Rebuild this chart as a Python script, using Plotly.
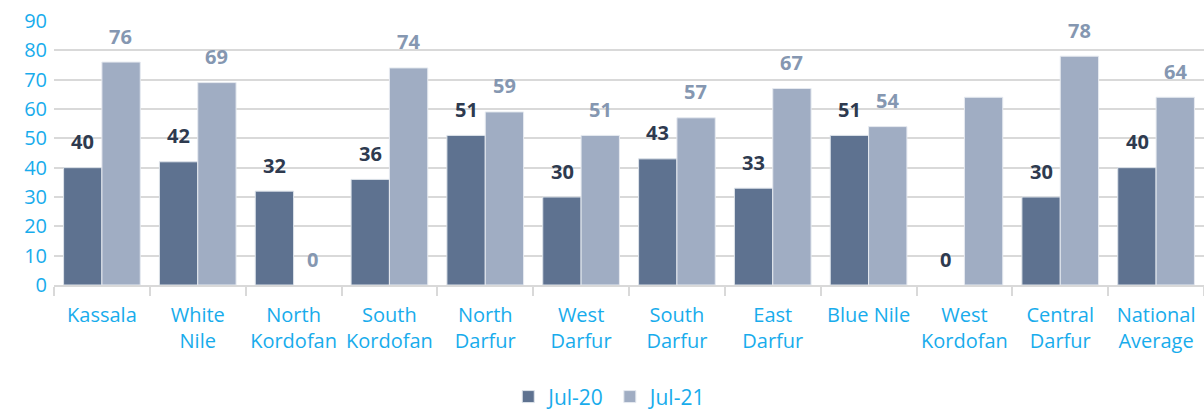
import plotly.graph_objects as go

categories = ["Kassala", "White<br>Nile", "North<br>Kordofan", "South<br>Kordofan", "North<br>Darfur",
              "West<br>Darfur", "South<br>Darfur", "East<br>Darfur", "Blue Nile", "West<br>Kordofan",
              "Central<br>Darfur", "National<br>Average"]
jul20 = [40, 42, 32, 36, 51, 30, 43, 33, 51, 0, 30, 40]
jul21 = [76, 69, 0, 74, 59, 51, 57, 67, 54, 64, 78, 64]
# labels shown above the bars (West Kordofan Jul-21 has no label in the source)
jul20_labels = ["40", "42", "32", "36", "51", "30", "43", "33", "51", "0", "30", "40"]
jul21_labels = ["76", "69", "0", "74", "59", "51", "57", "67", "54", None, "78", "64"]
y_ticks = [0, 10, 20, 30, 40, 50, 60, 70, 80, 90]

DARK = "#5e7290"
LIGHT = "#a0adc3"
CYAN = "#18acec"
FONT = "Open Sans"

fig = go.Figure()
fig.add_trace(go.Bar(name="Jul-20", x=categories, y=jul20,
                     marker=dict(color=DARK, line=dict(color="#dde3ea", width=[1 if v > 0 else 0 for v in jul20]))))
fig.add_trace(go.Bar(name="Jul-21", x=categories, y=jul21,
                     marker=dict(color=LIGHT, line=dict(color="#e6eaf0", width=[1 if v > 0 else 0 for v in jul21]))))

annotations = []
for i, c in enumerate(categories):
    if jul20_labels[i] is not None:
        annotations.append(dict(x=c, y=jul20[i], xref="x", yref="y", text=f"<b>{jul20_labels[i]}</b>",
                                showarrow=False, xshift=-19, yshift=26, yanchor="middle",
                                font=dict(family=FONT, size=20, color="#2e3a4f")))
    if jul21_labels[i] is not None:
        annotations.append(dict(x=c, y=jul21[i], xref="x", yref="y", text=f"<b>{jul21_labels[i]}</b>",
                                showarrow=False, xshift=19, yshift=26, yanchor="middle",
                                font=dict(family=FONT, size=20, color="#8597b1")))

fig.update_layout(
    width=1204, height=411,
    margin=dict(l=54, r=0, t=21, b=126, autoexpand=False),
    plot_bgcolor="white", paper_bgcolor="white",
    barmode="group", bargap=0.2, bargroupgap=0,
    font=dict(family=FONT, size=20, color=CYAN),
    annotations=annotations,
    legend=dict(orientation="h", x=0.395, xanchor="left", y=-0.424, yanchor="middle",
                font=dict(family=FONT, size=21, color=CYAN), itemwidth=30, tracegroupgap=0),
    xaxis=dict(range=[-0.5, len(categories) - 0.5], showline=True, linecolor="#d9d9d9", linewidth=2,
               ticks="outside", tickson="boundaries", ticklen=9, tickcolor="#d9d9d9", tickwidth=2,
               tickfont=dict(family=FONT, size=20, color=CYAN), showgrid=False, ticklabelstandoff=11,
               tickangle=0, automargin=False),
    yaxis=dict(range=[0, 90], tickvals=y_ticks, showgrid=True, gridcolor="#d9d9d9", gridwidth=2,
               zeroline=False, tickfont=dict(family=FONT, size=20, color=CYAN), ticklabelstandoff=6,
               automargin=False),
)

fig.write_html("out.html", config={"displayModeBar": False},
               post_script="document.body.style.margin='0';document.body.style.overflow='hidden';")
